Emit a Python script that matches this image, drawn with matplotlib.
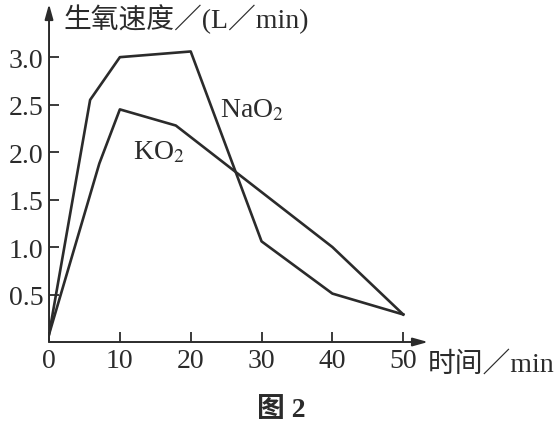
import matplotlib
matplotlib.use("Agg")
import matplotlib.pyplot as plt

plt.rcParams['font.family'] = ['Liberation Serif', 'Noto Sans CJK SC']
plt.rcParams['mathtext.fontset'] = 'stix'

# 数据
time_na = [0, 5.8, 10, 20, 30, 40, 50]
rate_na = [0.08, 2.55, 3.0, 3.06, 1.06, 0.51, 0.29]
time_k = [0, 7.1, 10, 17.9, 40, 50]
rate_k = [0.08, 1.88, 2.45, 2.28, 1.0, 0.29]

x_ticks = [0, 10, 20, 30, 40, 50]
y_ticks = [0.5, 1.0, 1.5, 2.0, 2.5, 3.0]

ink = '#2b2b2b'

fig = plt.figure(figsize=(5.59, 4.27), dpi=100)
ax = fig.add_axes([0.0877, 0.1967, 0.678, 0.7916])

ax.plot(time_na, rate_na, color=ink, lw=1.9)
ax.plot(time_k, rate_k, color=ink, lw=1.9)

ax.set_xlim(0, 53.5)
ax.set_ylim(0, 3.56)
for s in ax.spines.values():
    s.set_visible(False)

# 坐标轴箭头
arrow = dict(arrowstyle='-|>,head_length=0.9,head_width=0.25', color=ink,
             lw=1.4, mutation_scale=10, shrinkA=0, shrinkB=0)
ax.annotate('', xy=(1, 0), xytext=(0, 0), xycoords='axes fraction',
            arrowprops=arrow, annotation_clip=False)
ax.annotate('', xy=(0, 1), xytext=(0, 0), xycoords='axes fraction',
            arrowprops=arrow, annotation_clip=False)

ax.set_xticks(x_ticks)
ax.set_xticklabels([str(t) for t in x_ticks])
ax.set_yticks(y_ticks)
ax.set_yticklabels([f'{t:.1f}' for t in y_ticks])
ax.tick_params(direction='in', length=7, width=1.3, color=ink,
               labelsize=20, labelcolor=ink)
ax.tick_params(axis='x', pad=4)
ax.tick_params(axis='y', pad=4)

ax.text(24.15, 2.38, 'NaO$_2$', fontsize=20, color=ink, va='baseline')
ax.text(11.9, 1.93, 'KO$_2$', fontsize=20, color=ink, va='baseline')

fig.text(0.1127, 0.9555, '生氧速度／(L／min)', fontsize=20, color=ink,
         ha='left', va='center')
fig.text(0.7657, 0.145, '时间／min', fontsize=20, color=ink,
         ha='left', va='center')
fig.text(0.503, 0.038, '图 2', fontsize=20, color=ink, fontweight='bold',
         ha='center', va='center')

fig.savefig('out.png', dpi=100)
